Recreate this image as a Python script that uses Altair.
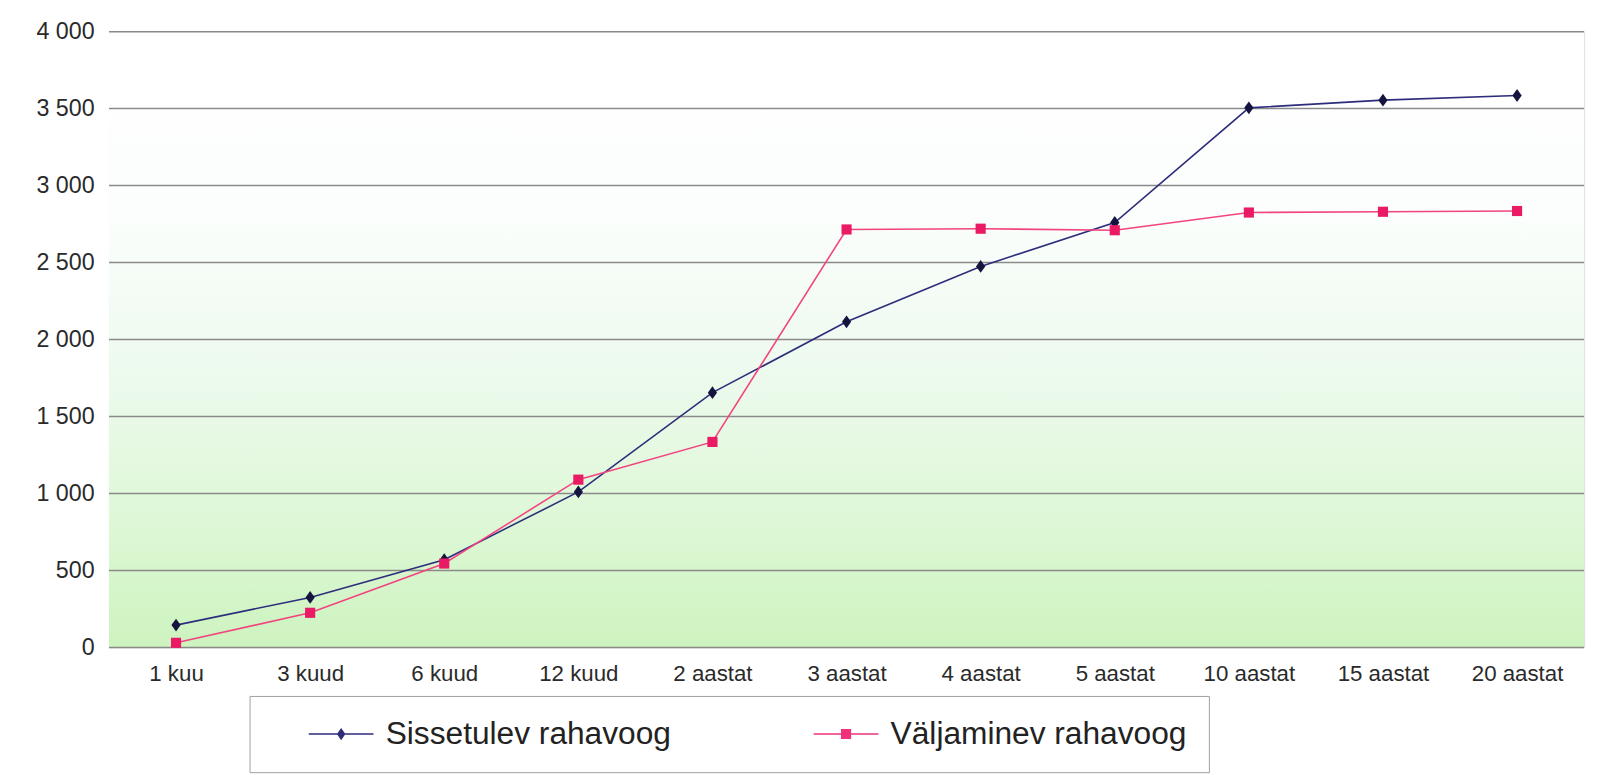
import altair as alt
import pandas as pd

categories = ["1 kuu", "3 kuud", "6 kuud", "12 kuud", "2 aastat", "3 aastat",
              "4 aastat", "5 aastat", "10 aastat", "15 aastat", "20 aastat"]
series_names = ["Sissetulev rahavoog", "Väljaminev rahavoog"]
sissetulev = [145, 325, 570, 1010, 1655, 2115, 2475, 2760, 3505, 3555, 3585]
valjaminev = [30, 225, 545, 1090, 1335, 2715, 2720, 2710, 2825, 2830, 2835]
grid_values = [0, 500, 1000, 1500, 2000, 2500, 3000, 3500, 4000]

rows = []
for name, vals in zip(series_names, [sissetulev, valjaminev]):
    for c, v in zip(categories, vals):
        rows.append({"periood": c, "seeria": name, "vaartus": v})
df = pd.DataFrame(rows)

FONT = "Liberation Sans"
W, H = 1490, 622

x_enc = alt.X("periood:N", sort=categories,
              scale=alt.Scale(type="point", padding=0.5),
              axis=alt.Axis(title=None, labelAngle=0, ticks=False, domain=False,
                            labelFontSize=22.5, labelPadding=15, labelColor="#2a2a2a",
                            labelFont=FONT))
y_enc = alt.Y("vaartus:Q", scale=alt.Scale(domain=[0, 4000], nice=False),
              axis=alt.Axis(title=None, values=grid_values, grid=False, ticks=False,
                            domain=False, labelFontSize=23.5, labelPadding=15,
                            labelColor="#2a2a2a", labelFont=FONT,
                            labelExpr="replace(format(datum.value, ','), ',', ' ')"))

bg = alt.Chart(alt.Data(values=[{}])).mark_rect(
    color=alt.LinearGradient(
        gradient="linear", x1=0, x2=0, y1=0, y2=1,
        stops=[alt.GradientStop(offset=0, color="#ffffff"),
               alt.GradientStop(offset=0.3, color="#fbfefc"),
               alt.GradientStop(offset=0.55, color="#edfaee"),
               alt.GradientStop(offset=0.78, color="#dff8d8"),
               alt.GradientStop(offset=1, color="#cdf3bf")])
).encode(x=alt.value(0), x2=alt.value("width"), y=alt.value(0), y2=alt.value("height"))

grid = alt.Chart(pd.DataFrame({"vaartus": grid_values})).mark_rule(
    color="#8a8a8a", strokeWidth=1.5
).encode(y=y_enc)

lines = alt.Chart(df).mark_line(strokeWidth=1.6).encode(
    x=x_enc, y=y_enc,
    color=alt.Color("seeria:N", scale=alt.Scale(domain=series_names,
                                                range=["#2d2d7c", "#f2447f"]),
                    legend=None),
)

pts_blue = alt.Chart(df).transform_filter(
    alt.datum.seeria == series_names[0]
).mark_point(filled=True, opacity=1, size=168, color="#14143f",
             shape="M0,-1L0.72,0L0,1L-0.72,0Z").encode(x=x_enc, y=y_enc)

pts_pink = alt.Chart(df).transform_filter(
    alt.datum.seeria == series_names[1]
).mark_point(filled=True, opacity=1, size=105, color="#ea1a64",
             shape="square").encode(x=x_enc, y=y_enc)

legend_props = dict(
    orient="none", legendX=142, legendY=671, direction="horizontal", title=None,
    labelFontSize=32, labelFont=FONT, labelColor="#222222", labelLimit=0,
    symbolSize=418, symbolOffset=54, labelOffset=29, columnPadding=106,
    padding=22.5, strokeColor="#a0a0a0", fillColor="white", symbolStrokeWidth=0,
    symbolOpacity=1,
)
path_blue = "M-3.2,-0.08H3.2V0.08H-3.2Z M0,-0.6L0.42,0L0,0.6L-0.42,0Z"
path_pink = "M-3.2,-0.07H3.2V0.07H-3.2Z M-0.5,-0.5H0.5V0.5H-0.5Z"

legend_layer = alt.Chart(df).transform_filter("false").mark_point(
    filled=True, opacity=1
).encode(
    x=x_enc, y=y_enc,
    color=alt.Color("seeria:N", scale=alt.Scale(domain=series_names,
                                                range=["#2d2d7c", "#f0327a"]),
                    legend=alt.Legend(**legend_props)),
    shape=alt.Shape("seeria:N", scale=alt.Scale(domain=series_names,
                                                range=[path_blue, path_pink]),
                    legend=alt.Legend(**legend_props)),
)

chart = alt.layer(bg, grid, lines, pts_blue, pts_pink, legend_layer).resolve_scale(
    color="independent", shape="independent"
).properties(
    width=W, height=H,
    autosize=alt.AutoSizeParams(type="none"),
    padding={"left": 102, "top": 20, "right": 12, "bottom": 128},
).configure_view(stroke="#8a8a8a", strokeWidth=1.5).configure(background="white")

chart.save("out.html", embed_options={"renderer": "svg", "actions": False})
